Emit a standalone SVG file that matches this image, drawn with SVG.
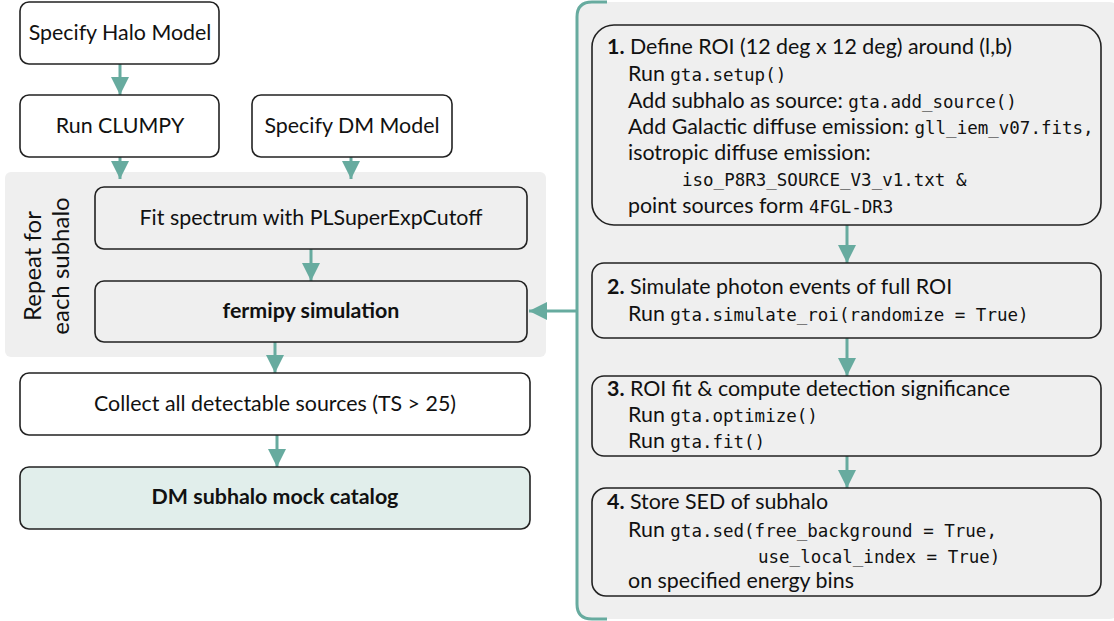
<svg xmlns="http://www.w3.org/2000/svg" width="1114" height="621" viewBox="0 0 1114 621">
<defs>
<marker id="ah" viewBox="0 0 10 10" refX="10" refY="5" markerWidth="6" markerHeight="6" markerUnits="strokeWidth" orient="auto">
<path d="M0,0 L10,5 L0,10 Z" fill="#67ab9f"/>
</marker>
</defs>
<style>
.box{stroke:#222;stroke-width:1.6;fill:#fff}
.gbox{stroke:#222;stroke-width:1.6;fill:#efefef}
.t{font-family:Lato,"Open Sans","Liberation Sans",sans-serif;font-size:21.4px;fill:#111;text-anchor:middle}
.b{font-weight:bold}
.r{font-family:Lato,"Open Sans","Liberation Sans",sans-serif;font-size:21.4px;fill:#111}
.m{font-family:"DejaVu Sans Mono","Liberation Mono",monospace;font-size:17.5px}
.c{stroke:#67ab9f;stroke-width:3;fill:none}
</style>
<rect x="5" y="172" width="541" height="185" rx="6" fill="#efefef"/>
<rect x="576" y="2" width="545" height="617" rx="12" fill="#efefef"/>
<g id="connectors">
<line class="c" x1="120" y1="64" x2="120" y2="95" marker-end="url(#ah)"/>
<line class="c" x1="120" y1="157" x2="120" y2="179" marker-end="url(#ah)"/>
<line class="c" x1="351" y1="157" x2="351" y2="179" marker-end="url(#ah)"/>
<line class="c" x1="311" y1="249" x2="311" y2="281" marker-end="url(#ah)"/>
<line class="c" x1="275" y1="342" x2="275" y2="373" marker-end="url(#ah)"/>
<line class="c" x1="277" y1="435" x2="277" y2="467" marker-end="url(#ah)"/>
<path class="c" d="M607,2 H592 Q577,2 577,17 V604 Q577,619 592,619 H607"/>
<line class="c" x1="577" y1="311" x2="529" y2="311" marker-end="url(#ah)"/>
<line class="c" x1="847" y1="225" x2="847" y2="263" marker-end="url(#ah)"/>
<line class="c" x1="847" y1="338" x2="847" y2="376" marker-end="url(#ah)"/>
<line class="c" x1="847" y1="456" x2="847" y2="488" marker-end="url(#ah)"/>
</g>
<g id="halo">
<rect class="box" x="20" y="2" width="199" height="62" rx="9"/>
<text class="t" x="120" y="40">Specify Halo Model</text>
</g>
<g id="clumpy">
<rect class="box" x="20" y="95" width="199" height="62" rx="9"/>
<text class="t" x="120" y="133">Run CLUMPY</text>
</g>
<g id="dm-model">
<rect class="box" x="252" y="95" width="200" height="62" rx="9"/>
<text class="t" x="352" y="133">Specify DM Model</text>
</g>
<g id="repeat-label">
<text class="t" transform="translate(45,266) rotate(-90)" style="font-size:24px"><tspan x="0" y="-4">Repeat for</tspan><tspan x="0" y="24">each subhalo</tspan></text>
</g>
<g id="fit">
<rect class="gbox" x="95" y="187" width="432" height="62" rx="9"/>
<text class="t" x="311" y="225">Fit spectrum with PLSuperExpCutoff</text>
</g>
<g id="fermipy">
<rect class="gbox" x="95" y="281" width="432" height="61" rx="9"/>
<text class="t b" x="311" y="318">fermipy simulation</text>
</g>
<g id="collect">
<rect class="box" x="20" y="373" width="510" height="62" rx="9"/>
<text class="t" x="275" y="411">Collect all detectable sources (TS &gt; 25)</text>
</g>
<g id="catalog">
<rect class="box" x="20" y="467" width="510" height="62" rx="9" style="fill:#e1eeeb"/>
<text class="t b" x="275" y="504">DM subhalo mock catalog</text>
</g>
<g id="step1">
<rect class="gbox" x="592" y="25" width="509" height="200" rx="22"/>
<text class="r" x="607" y="54"><tspan class="b">1.</tspan> Define ROI (12 deg x 12 deg) around (l,b)</text>
<text class="r" x="628" y="81">Run <tspan class="m">gta.setup()</tspan></text>
<text class="r" x="628" y="108">Add subhalo as source: <tspan class="m">gta.add_source()</tspan></text>
<text class="r" x="628" y="134">Add Galactic diffuse emission: <tspan class="m">gll_iem_v07.fits,</tspan></text>
<text class="r" x="628" y="160">isotropic diffuse emission:</text>
<text class="r m" x="682" y="186">iso_P8R3_SOURCE_V3_v1.txt &amp;</text>
<text class="r" x="628" y="213">point sources form <tspan class="m">4FGL-DR3</tspan></text>
</g>
<g id="step2">
<rect class="gbox" x="592" y="263" width="509" height="75" rx="12"/>
<text class="r" x="607" y="294"><tspan class="b">2.</tspan> Simulate photon events of full ROI</text>
<text class="r" x="628" y="321">Run <tspan class="m">gta.simulate_roi(randomize = True)</tspan></text>
</g>
<g id="step3">
<rect class="gbox" x="592" y="376" width="509" height="80" rx="12"/>
<text class="r" x="607" y="396"><tspan class="b">3.</tspan> ROI fit &amp; compute detection significance</text>
<text class="r" x="628" y="422">Run <tspan class="m">gta.optimize()</tspan></text>
<text class="r" x="628" y="448">Run <tspan class="m">gta.fit()</tspan></text>
</g>
<g id="step4">
<rect class="gbox" x="592" y="488" width="509" height="108" rx="14"/>
<text class="r" x="607" y="509"><tspan class="b">4.</tspan> Store SED of subhalo</text>
<text class="r" x="628" y="537">Run <tspan class="m">gta.sed(free_background = True,</tspan></text>
<text class="r m" x="758" y="563">use_local_index = True)</text>
<text class="r" x="628" y="588">on specified energy bins</text>
</g>
</svg>
